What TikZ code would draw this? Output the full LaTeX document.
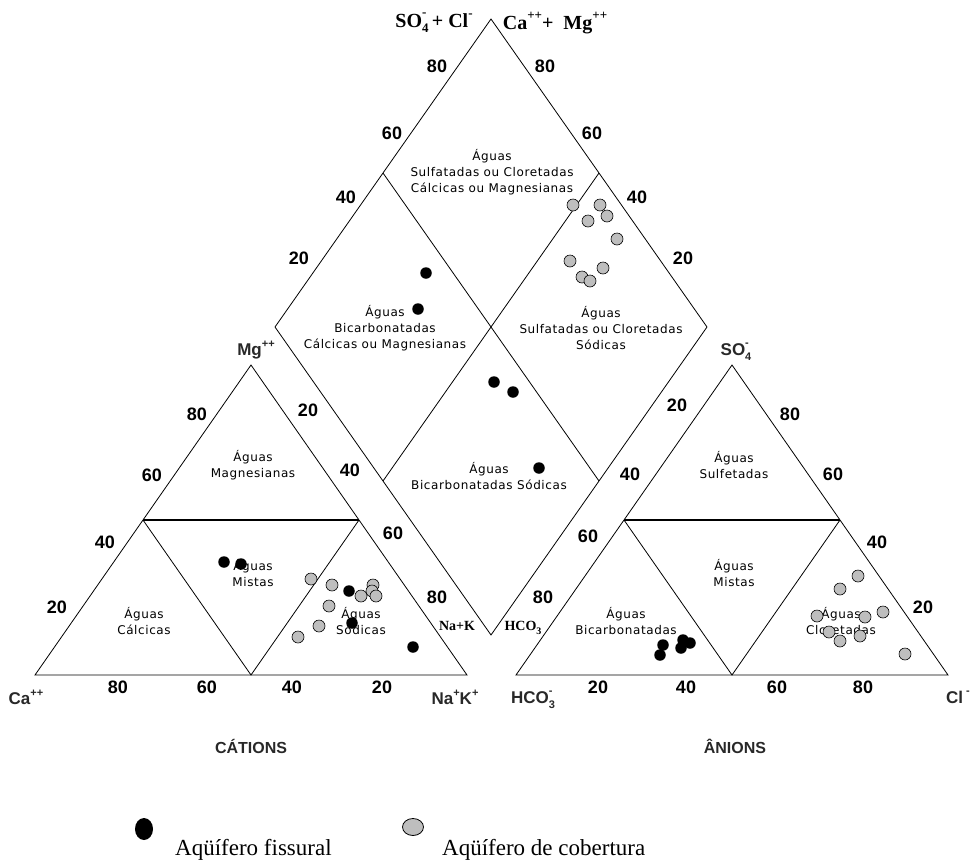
\documentclass[tikz,border=0pt]{standalone}
\usepackage{fontspec}
\setmainfont{Liberation Serif}
\newfontfamily\regfont{DejaVu Sans}[LetterSpace=5]
\newfontfamily\tickfnt{Liberation Sans}
\usetikzlibrary{shapes.geometric}
\definecolor{ptgray}{RGB}{190,190,190}
\definecolor{labgray}{RGB}{40,40,40}
\newcommand\mysupsub[3][11]{{\fontsize{#1}{#1}\selectfont\makebox[0pt][l]{\raisebox{0.8em}{#2}}\raisebox{-0.45em}{#3}}}
\newcommand\mysup[2][11]{{\fontsize{#1}{#1}\selectfont\raisebox{0.75em}{#2}}}
\newcommand\mysub[2][10]{{\fontsize{#1}{#1}\selectfont\raisebox{-0.4em}{#2}}}
\tikzset{
  frame/.style={draw=black, line width=0.8pt},
  midline/.style={draw=black, line width=1.1pt},
  ticklab/.style={font=\tickfnt\bfseries\fontsize{18}{18}\selectfont, inner sep=0pt},
  cornerlab/.style={font=\tickfnt\bfseries\fontsize{17}{17}\selectfont, text=labgray, inner sep=0pt},
  serlab/.style={font=\bfseries\fontsize{20}{20}\selectfont, inner sep=0pt},
  smallser/.style={font=\bfseries\fontsize{14}{14}\selectfont, inner sep=0pt},
  reglab/.style={font=\regfont\fontsize{12}{16}\selectfont, align=center, inner sep=0pt},
  axtitle/.style={font=\tickfnt\bfseries\fontsize{16}{16}\selectfont, text=labgray, inner sep=0pt},
  legtext/.style={font=\fontsize{23}{23}\selectfont, anchor=west, inner sep=0pt},
  blk/.style={circle, fill=black, minimum size=11.5pt, inner sep=0pt},
  gry/.style={circle, fill=ptgray, draw=black, line width=0.6pt, minimum size=12pt, inner sep=0pt}
}
\begin{document}
\begin{tikzpicture}[x=1pt,y=-1pt]
\useasboundingbox (0,0) rectangle (978,868);
% left triangle
\coordinate (LA) at (35,675); \coordinate (LB) at (467,675); \coordinate (LC) at (251,365);
\coordinate (LM1) at (143,520); \coordinate (LM2) at (359,520); \coordinate (LM3) at (251,675);
\draw[frame] (LA) -- (LB) -- (LC) -- cycle;
\draw[midline] (LM1) -- (LM2);
\draw[frame] (LM1) -- (LM3) -- (LM2);
% right triangle
\coordinate (RA) at (516,675); \coordinate (RB) at (948,675); \coordinate (RC) at (732,365);
\coordinate (RM1) at (624,520); \coordinate (RM2) at (840,520); \coordinate (RM3) at (732,675);
\draw[frame] (RA) -- (RB) -- (RC) -- cycle;
\draw[midline] (RM1) -- (RM2);
\draw[frame] (RM1) -- (RM3) -- (RM2);
% diamond
\coordinate (DT) at (491,19); \coordinate (DL) at (275,327); \coordinate (DR) at (707,327); \coordinate (DB) at (491,635);
\coordinate (DM1) at (383,173); \coordinate (DM2) at (599,481); \coordinate (DM3) at (599,173); \coordinate (DM4) at (383,481);
\draw[frame] (DT) -- (DR) -- (DB) -- (DL) -- cycle;
\draw[frame] (DM1) -- (DM2);
\draw[frame] (DM3) -- (DM4);
% tick labels
\node[ticklab] (t1) at (197,414) {80};
\node[ticklab] (t2) at (152,475) {60};
\node[ticklab] (t3) at (105,542) {40};
\node[ticklab] (t4) at (57,607) {20};
\node[ticklab] (t5) at (308,410) {20};
\node[ticklab] (t6) at (350,470) {40};
\node[ticklab] (t7) at (393,533) {60};
\node[ticklab] (t8) at (437,597) {80};
\node[ticklab] (t9) at (118,687) {80};
\node[ticklab] (t10) at (207,687) {60};
\node[ticklab] (t11) at (292,687) {40};
\node[ticklab] (t12) at (382,687) {20};
\node[ticklab] (t13) at (598,687) {20};
\node[ticklab] (t14) at (686,687) {40};
\node[ticklab] (t15) at (777,687) {60};
\node[ticklab] (t16) at (863,687) {80};
\node[ticklab] (t17) at (677,405) {20};
\node[ticklab] (t18) at (630,474) {40};
\node[ticklab] (t19) at (588,536) {60};
\node[ticklab] (t20) at (543,597) {80};
\node[ticklab] (t21) at (790,414) {80};
\node[ticklab] (t22) at (833,474) {60};
\node[ticklab] (t23) at (877,542) {40};
\node[ticklab] (t24) at (923,607) {20};
\node[ticklab] (t25) at (437,66) {80};
\node[ticklab] (t26) at (392,133) {60};
\node[ticklab] (t27) at (346,197) {40};
\node[ticklab] (t28) at (299,258) {20};
\node[ticklab] (t29) at (545,66) {80};
\node[ticklab] (t30) at (592,133) {60};
\node[ticklab] (t31) at (637,197) {40};
\node[ticklab] (t32) at (683,258) {20};
% corner labels
\node[cornerlab] (ca) at (26,697) {Ca\mysup{++}};
\node[cornerlab] (nak) at (455,697) {Na\mysup{+}K\mysup{+}};
\node[cornerlab] (hco) at (533,700) {HCO\mysupsub{-}{3}};
\node[cornerlab] (cl) at (958,697) {Cl\mysup{ -}};
\node[cornerlab] (mg) at (256,350) {Mg\mysup{++}};
\node[cornerlab] (so) at (736,352) {SO\mysupsub{-}{4}};
\node[serlab] (topl) at (434,23) {SO\mysupsub[13]{-}{4}\,+ Cl\mysup[13]{-}};
\node[serlab] (topr) at (555,23) {Ca\mysup[13]{++}+\ \ Mg\mysup[13]{++}};
\node[smallser] (nakm) at (457,626) {Na+K};
\node[smallser] (hcom) at (523,628) {HCO\mysub{3}};
% region labels
\node[reglab] (r1) at (492,172) {Águas\\Sulfatadas ou Cloretadas\\Cálcicas ou Magnesianas};
\node[reglab] (r2) at (385,328) {Águas\\Bicarbonatadas\\Cálcicas ou Magnesianas};
\node[reglab] (r3) at (601,328) {Águas\\Sulfatadas ou Cloretadas\\Sódicas};
\node[reglab] (r4) at (489,476) {Águas\\Bicarbonatadas Sódicas};
\node[reglab] (r5) at (253,465) {Águas\\Magnesianas};
\node[reglab] (r6) at (253,573) {Águas\\Mistas};
\node[reglab] (r7) at (144,621) {Águas\\Cálcicas};
\node[reglab] (r8) at (361,621) {Águas\\Sódicas};
\node[reglab] (r9) at (734,465) {Águas\\Sulfetadas};
\node[reglab] (r10) at (734,573) {Águas\\Mistas};
\node[reglab] (r11) at (626,621) {Águas\\Bicarbonatadas};
\node[reglab] (r12) at (841,621) {Águas\\Cloretadas};
% axis titles
\node[axtitle] (cat) at (251,746) {CÁTIONS};
\node[axtitle] (ani) at (735,746) {ÂNIONS};
% points: left triangle
\node[blk] (a1) at (224,562) {};
\node[blk] (a2) at (241,564) {};
\node[blk] (a3) at (349,591) {};
\node[blk] (a4) at (352,623) {};
\node[blk] (a5) at (413,647) {};
\node[gry] (b1) at (311,579) {};
\node[gry] (b2) at (332,585) {};
\node[gry] (b3) at (373,585) {};
\node[gry] (b4) at (372,591) {};
\node[gry] (b5) at (361,596) {};
\node[gry] (b6) at (376,596) {};
\node[gry] (b7) at (329,606) {};
\node[gry] (b8) at (319,626) {};
\node[gry] (b9) at (298,637) {};
% points: right triangle
\node[blk] (c1) at (663,645) {};
\node[blk] (c2) at (660,655) {};
\node[blk] (c3) at (683,640) {};
\node[blk] (c4) at (681,648) {};
\node[blk] (c5) at (690,643) {};
\node[gry] (d1) at (858,576) {};
\node[gry] (d2) at (840,589) {};
\node[gry] (d3) at (817,616) {};
\node[gry] (d4) at (865,617) {};
\node[gry] (d5) at (883,612) {};
\node[gry] (d6) at (829,632) {};
\node[gry] (d7) at (840,641) {};
\node[gry] (d8) at (860,636) {};
\node[gry] (d9) at (905,654) {};
% points: diamond
\node[blk] (e1) at (426,273) {};
\node[blk] (e2) at (418,309) {};
\node[blk] (e3) at (494,382) {};
\node[blk] (e4) at (513,392) {};
\node[blk] (e5) at (539,468) {};
\node[gry] (g1) at (573,205) {};
\node[gry] (g2) at (600,205) {};
\node[gry] (g3) at (588,221) {};
\node[gry] (g4) at (607,216) {};
\node[gry] (g5) at (617,239) {};
\node[gry] (g6) at (570,261) {};
\node[gry] (g7) at (603,268) {};
\node[gry] (g8) at (582,277) {};
\node[gry] (g9) at (590,281) {};
% legend
\node[ellipse, fill=black, minimum width=18pt, minimum height=22pt, inner sep=0pt] (lk1) at (144,829) {};
\node[legtext] (lt1) at (175,850) {Aqüífero fissural};
\node[ellipse, fill=ptgray, draw=black, line width=0.8pt, minimum width=21pt, minimum height=17pt, inner sep=0pt] (lk2) at (413,827) {};
\node[legtext] (lt2) at (442,850) {Aqüífero de cobertura};
\end{tikzpicture}
\end{document}
